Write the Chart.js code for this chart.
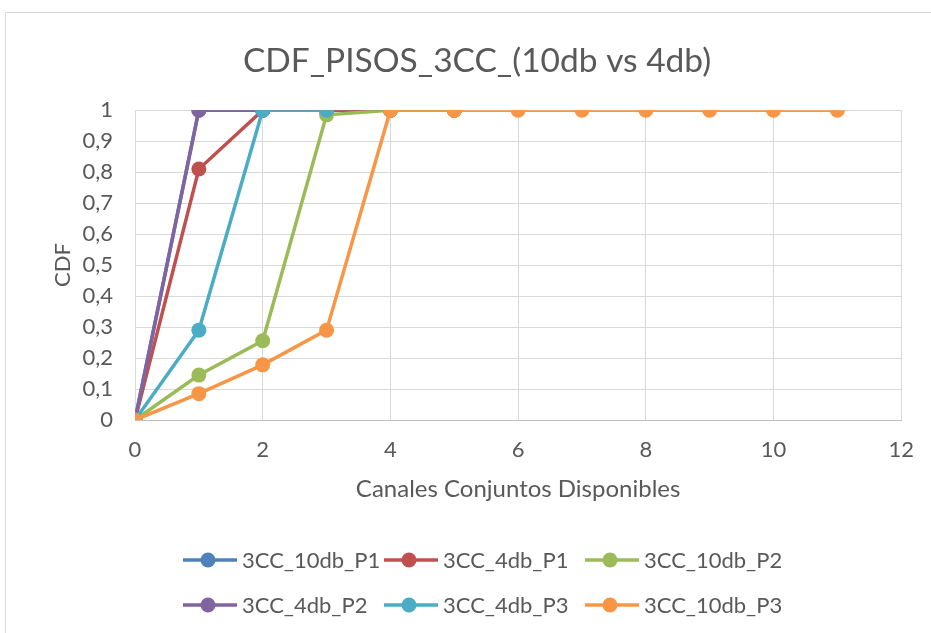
<!DOCTYPE html>
<html>
<head>
<meta charset="utf-8">
<script src="https://cdn.jsdelivr.net/npm/chart.js@4/dist/chart.umd.min.js"></script>
<style>
  html, body { margin: 0; padding: 0; background: #ffffff; }
  #wrap { width: 931px; height: 633px; position: relative; }
</style>
</head>
<body>
<div id="wrap"><canvas id="c" width="931" height="633"></canvas></div>
<script>
// Channel counts on the x axis
const channels = [0, 1, 2, 3, 4, 5, 6, 7, 8, 9, 10, 11];

// Cumulative distribution per series (one value per channel count)
const cc10dbP1 = [0, 1, 1, 1, 1, 1];
const cc4dbP1  = [0, 0.81, 1, 1, 1, 1];
const cc10dbP2 = [0, 0.145, 0.256, 0.985, 1, 1];
const cc4dbP2  = [0, 1, 1];
const cc4dbP3  = [0, 0.29, 1, 1];
const cc10dbP3 = [0, 0.085, 0.178, 0.29, 1, 1, 1, 1, 1, 1, 1, 1];

const seriesNames  = ['3CC_10db_P1', '3CC_4db_P1', '3CC_10db_P2', '3CC_4db_P2', '3CC_4db_P3', '3CC_10db_P3'];
const seriesValues = [cc10dbP1, cc4dbP1, cc10dbP2, cc4dbP2, cc4dbP3, cc10dbP3];
const seriesColors = ['#4F81BD', '#C0504D', '#9BBB59', '#8064A2', '#4BACC6', '#F79646'];

const xTickStep = 2;
const yTickStep = 0.1;

const FONT = 'Lato, "Open Sans", sans-serif';
const TEXT = '#595959';
const GRID = '#d9d9d9';

// Later series are painted over earlier ones
const datasets = seriesNames.map((name, i) => ({
  label: name,
  data: seriesValues[i].map((v, k) => ({ x: channels[k], y: v })),
  order: seriesNames.length - 1 - i,
  borderColor: seriesColors[i],
  backgroundColor: seriesColors[i],
  borderWidth: 3.5,
  pointRadius: 7.5,
  pointHoverRadius: 7.5,
  pointBorderWidth: 0,
  showLine: true,
  tension: 0
}));

// Outer frame around the whole chart object
const framePlugin = {
  id: 'frame',
  beforeDraw(chart) {
    const ctx = chart.ctx;
    ctx.save();
    ctx.fillStyle = '#ffffff';
    ctx.fillRect(0, 0, chart.width, chart.height);
    ctx.strokeStyle = '#d9d9d9';
    ctx.lineWidth = 1;
    ctx.strokeRect(5.5, 12.5, chart.width + 20, chart.height + 20);
    ctx.restore();
  }
};

// Legend laid out as a fixed 3-column grid, line + marker symbol per entry
const gridLegend = {
  id: 'gridLegend',
  afterDraw(chart) {
    const ctx = chart.ctx;
    const cols = 3, colW = 201, x0 = 183, rowY = [560, 605];
    ctx.save();
    chart.data.datasets.forEach((ds, i) => {
      const col = i % cols, row = Math.floor(i / cols);
      const x = x0 + col * colW, y = rowY[row];
      ctx.strokeStyle = ds.borderColor;
      ctx.lineWidth = 3.5;
      ctx.lineCap = 'butt';
      ctx.beginPath();
      ctx.moveTo(x, y);
      ctx.lineTo(x + 54, y);
      ctx.stroke();
      ctx.fillStyle = ds.backgroundColor;
      ctx.beginPath();
      ctx.arc(x + 25, y, 7.5, 0, Math.PI * 2);
      ctx.fill();
      ctx.fillStyle = TEXT;
      ctx.font = '22px ' + FONT;
      ctx.textBaseline = 'middle';
      ctx.textAlign = 'left';
      ctx.fillText(ds.label, x + 59, y + 1);
    });
    ctx.restore();
  }
};

new Chart(document.getElementById('c'), {
  type: 'scatter',
  data: { datasets },
  options: {
    responsive: false,
    devicePixelRatio: 1,
    animation: false,
    layout: { padding: { left: 50, right: 27, top: 0, bottom: 120 } },
    plugins: {
      legend: { display: false },
      tooltip: { enabled: false },
      title: {
        display: true,
        text: 'CDF_PISOS_3CC_(10db vs 4db)',
        color: TEXT,
        font: { family: FONT, size: 33.5, weight: 'normal' },
        padding: { top: 41, bottom: 29 }
      }
    },
    scales: {
      x: {
        type: 'linear',
        min: 0,
        max: 12,
        ticks: {
          stepSize: xTickStep,
          color: TEXT,
          font: { family: FONT, size: 22 },
          padding: 17,
          callback: v => String(v)
        },
        grid: { color: GRID, lineWidth: 1, drawTicks: false },
        border: { display: true, color: '#bfbfbf', width: 1 },
        title: {
          display: true,
          text: 'Canales Conjuntos Disponibles',
          color: TEXT,
          font: { family: FONT, size: 24 },
          padding: { bottom: 9 }
        },
        afterFit(scale) { scale.height = 93; }
      },
      y: {
        min: 0,
        max: 1,
        ticks: {
          stepSize: yTickStep,
          color: TEXT,
          font: { family: FONT, size: 22 },
          padding: 22,
          callback: v => String(Math.round(v * 10) / 10).replace('.', ',')
        },
        grid: { color: GRID, lineWidth: 1, drawTicks: false },
        border: { display: false },
        title: {
          display: true,
          text: 'CDF',
          color: TEXT,
          font: { family: FONT, size: 22 },
          padding: { top: 0 }
        },
        afterFit(scale) { scale.width = 85; }
      }
    }
  },
  plugins: [framePlugin, gridLegend]
});
</script>
</body>
</html>
